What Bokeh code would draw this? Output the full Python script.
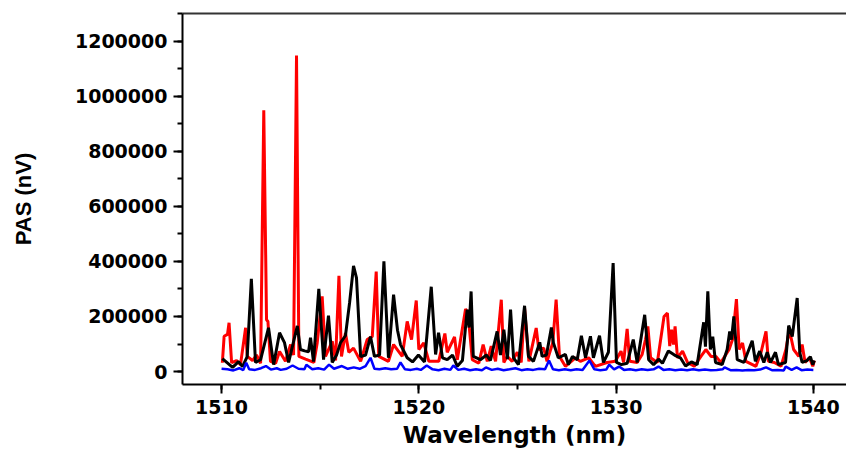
from bokeh.plotting import figure
from bokeh.models import Range1d, SingleIntervalTicker, BasicTickFormatter, LinearAxis, FixedTicker
from bokeh.embed import file_html
from bokeh.resources import INLINE

# ---- data ----
black_wl = [1510.04, 1510.56, 1510.86, 1511.06, 1511.30, 1511.51, 1511.72, 1511.98, 1512.38, 1512.64,
            1512.94, 1513.19, 1513.40, 1513.84, 1514.00, 1514.21, 1514.41, 1514.51, 1514.66, 1514.93,
            1515.17, 1515.42, 1515.61, 1515.83, 1516.03, 1516.28, 1516.49, 1516.69, 1516.84, 1517.05,
            1517.30, 1517.55, 1517.75, 1518.01, 1518.23, 1518.46, 1518.72, 1518.92, 1519.07, 1519.41,
            1519.68, 1519.98, 1520.29, 1520.63, 1520.85, 1521.00, 1521.20, 1521.44, 1521.71, 1521.95,
            1522.21, 1522.45, 1522.55, 1522.65, 1522.76, 1523.12, 1523.43, 1523.63, 1523.97, 1524.14,
            1524.31, 1524.49, 1524.65, 1524.80, 1525.05, 1525.36, 1525.56, 1525.81, 1526.13, 1526.25,
            1526.47, 1526.72, 1526.82, 1527.07, 1527.43, 1527.58, 1527.79, 1528.03, 1528.24, 1528.45,
            1528.70, 1528.85, 1529.16, 1529.36, 1529.61, 1529.85, 1530.02, 1530.27, 1530.56, 1530.87,
            1531.07, 1531.45, 1531.65, 1531.90, 1532.15, 1532.35, 1532.65, 1532.96, 1533.26, 1533.52,
            1533.82, 1534.11, 1534.44, 1534.53, 1534.65, 1534.78, 1534.90, 1535.04, 1535.38, 1535.63,
            1535.76, 1535.85, 1535.97, 1536.14, 1536.48, 1536.90, 1537.06, 1537.28, 1537.49, 1537.66,
            1537.83, 1538.08, 1538.23, 1538.59, 1538.75, 1538.93, 1539.18, 1539.31, 1539.43, 1539.68,
            1539.85, 1539.97, 1540.05]
black_pas = [47000, 15000, 36000, 18000, 54000, 337000, 33000, 43000, 159000, 25000,
             141000, 105000, 33000, 166000, 80000, 75000, 72000, 123000, 36000, 300000,
             43000, 203000, 33000, 60000, 105000, 130000, 250000, 384000, 340000, 54000,
             60000, 127000, 55000, 60000, 400000, 50000, 279000, 150000, 98000, 50000,
             35000, 60000, 35000, 308000, 62000, 141000, 50000, 43000, 60000, 19000,
             40000, 225000, 160000, 291000, 55000, 43000, 60000, 40000, 146000, 60000,
             152000, 45000, 225000, 50000, 25000, 239000, 55000, 37000, 106000, 55000,
             60000, 160000, 105000, 50000, 62000, 25000, 55000, 43000, 130000, 50000,
             128000, 50000, 130000, 33000, 70000, 394000, 33000, 25000, 30000, 116000,
             33000, 206000, 43000, 25000, 45000, 30000, 75000, 60000, 50000, 20000,
             35000, 25000, 179000, 90000, 291000, 80000, 127000, 33000, 25000, 80000,
             146000, 116000, 200000, 43000, 33000, 112000, 37000, 74000, 33000, 70000,
             33000, 70000, 25000, 33000, 167000, 127000, 267000, 70000, 33000, 40000,
             54000, 25000, 40000]

red_wl = [1510.04, 1510.13, 1510.30, 1510.38, 1510.51, 1510.76, 1510.96, 1511.22, 1511.30, 1511.57,
          1511.77, 1511.98, 1512.14, 1512.28, 1512.35, 1512.48, 1512.74, 1512.94, 1513.24, 1513.50,
          1513.65, 1513.80, 1513.92, 1514.26, 1514.68, 1514.85, 1515.10, 1515.27, 1515.61, 1515.78,
          1515.95, 1516.08, 1516.28, 1516.45, 1516.69, 1517.05, 1517.38, 1517.64, 1517.84, 1517.97,
          1518.46, 1518.72, 1519.16, 1519.41, 1519.63, 1519.87, 1520.00, 1520.25, 1520.51, 1521.01,
          1521.32, 1521.44, 1521.81, 1521.95, 1522.37, 1522.49, 1522.71, 1523.04, 1523.26, 1523.47,
          1523.67, 1523.89, 1524.18, 1524.31, 1524.48, 1524.73, 1524.99, 1525.19, 1525.36, 1525.58,
          1525.95, 1526.08, 1526.33, 1526.50, 1526.79, 1526.96, 1527.13, 1527.43, 1527.94, 1528.19,
          1528.61, 1528.95, 1529.54, 1529.96, 1530.25, 1530.38, 1530.56, 1530.69, 1531.07, 1531.32,
          1531.49, 1531.61, 1531.75, 1532.09, 1532.43, 1532.60, 1532.72, 1532.81, 1532.91, 1532.99,
          1533.11, 1533.37, 1533.62, 1533.96, 1534.30, 1534.55, 1534.81, 1535.06, 1535.31, 1535.73,
          1535.90, 1536.10, 1536.24, 1536.41, 1536.58, 1537.09, 1537.35, 1537.60, 1537.72, 1538.02,
          1538.36, 1538.61, 1538.78, 1539.00, 1539.26, 1539.43, 1539.58, 1539.80, 1539.97, 1540.05]
red_pas = [32000, 128000, 135000, 177000, 32000, 40000, 25000, 159000, 55000, 40000,
           60000, 30000, 949000, 188000, 182000, 37000, 30000, 73000, 37000, 98000,
           60000, 1148000, 55000, 45000, 33000, 105000, 273000, 55000, 110000, 40000,
           348000, 55000, 140000, 70000, 85000, 37000, 116000, 127000, 363000, 55000,
           37000, 98000, 55000, 182000, 116000, 258000, 80000, 104000, 37000, 37000,
           138000, 70000, 126000, 43000, 227000, 213000, 43000, 30000, 98000, 37000,
           92000, 37000, 261000, 33000, 55000, 37000, 70000, 33000, 230000, 37000,
           158000, 80000, 85000, 37000, 105000, 261000, 55000, 19000, 50000, 37000,
           50000, 19000, 33000, 37000, 74000, 33000, 155000, 37000, 33000, 62000,
           116000, 164000, 50000, 33000, 200000, 212000, 92000, 152000, 98000, 164000,
           50000, 74000, 33000, 19000, 55000, 80000, 55000, 55000, 33000, 80000,
           116000, 263000, 80000, 104000, 37000, 19000, 70000, 146000, 37000, 33000,
           19000, 80000, 152000, 80000, 55000, 98000, 33000, 50000, 19000, 40000]

blue_wl = [1510.0, 1510.3, 1510.6, 1510.9, 1511.1, 1511.25, 1511.4, 1511.7, 1512.0, 1512.25,
           1512.5, 1512.8, 1513.0, 1513.3, 1513.6, 1513.9, 1514.2, 1514.3, 1514.6, 1514.9,
           1515.2, 1515.45, 1515.7, 1516.1, 1516.4, 1516.7, 1517.0, 1517.3, 1517.55, 1517.75,
           1518.0, 1518.3, 1518.6, 1518.9, 1519.07, 1519.3, 1519.6, 1519.9, 1520.1, 1520.4,
           1520.7, 1521.0, 1521.3, 1521.6, 1521.75, 1522.0, 1522.3, 1522.6, 1522.9, 1523.2,
           1523.4, 1523.7, 1524.0, 1524.3, 1524.6, 1524.9, 1525.2, 1525.5, 1525.8, 1526.1,
           1526.4, 1526.6, 1526.8, 1527.1, 1527.4, 1527.7, 1528.0, 1528.3, 1528.65, 1528.9,
           1529.2, 1529.5, 1529.65, 1529.9, 1530.15, 1530.4, 1530.7, 1531.0, 1531.3, 1531.6,
           1531.9, 1532.15, 1532.4, 1532.7, 1533.0, 1533.3, 1533.6, 1533.9, 1534.2, 1534.5,
           1534.8, 1535.1, 1535.4, 1535.5, 1535.8, 1536.1, 1536.4, 1536.7, 1537.0, 1537.3,
           1537.6, 1537.9, 1538.2, 1538.5, 1538.6, 1538.9, 1539.15, 1539.4, 1539.7, 1540.0]
blue_pas = [10000, 8000, 4000, 12000, 5000, 32000, 8000, 6000, 12000, 20000,
            7000, 12000, 6000, 10000, 22000, 10000, 8000, 25000, 8000, 12000,
            7000, 25000, 10000, 20000, 10000, 15000, 10000, 20000, 50000, 10000,
            8000, 12000, 8000, 10000, 33000, 8000, 6000, 10000, 6000, 22000,
            8000, 5000, 10000, 6000, 22000, 6000, 10000, 5000, 8000, 5000,
            15000, 6000, 10000, 5000, 8000, 12000, 5000, 8000, 6000, 10000,
            8000, 40000, 8000, 5000, 8000, 5000, 8000, 6000, 40000, 8000,
            5000, 7000, 25000, 8000, 18000, 6000, 8000, 5000, 8000, 6000,
            8000, 18000, 6000, 8000, 5000, 7000, 5000, 8000, 5000, 7000,
            5000, 6000, 8000, 15000, 5000, 6000, 4000, 6000, 5000, 7000,
            15000, 5000, 6000, 4000, 18000, 6000, 15000, 5000, 7000, 6000]

x_label = "Wavelength (nm)"
y_label = "PAS (nV)"

TICK_FONT = "DejaVu Sans"

p = figure(width=846, height=450, output_backend="svg", toolbar_location=None,
           x_range=Range1d(1508.02, 1541.68), y_range=Range1d(-47100, 1300700),
           min_border_left=182, min_border_right=0, min_border_top=13, min_border_bottom=65)
p.outline_line_color = None
p.xgrid.visible = False
p.ygrid.visible = False
p.background_fill_color = "white"

p.line(red_wl, red_pas, line_color="#ff0000", line_width=3)
p.line(black_wl, black_pas, line_color="#000000", line_width=3)
p.line(blue_wl, blue_pas, line_color="#0000ff", line_width=2.5)

p.xaxis.ticker = SingleIntervalTicker(interval=10, num_minor_ticks=2)
p.yaxis.ticker = SingleIntervalTicker(interval=200000, num_minor_ticks=2)
p.yaxis.formatter = BasicTickFormatter(use_scientific=False)

for ax in (p.xaxis[0], p.yaxis[0]):
    ax.axis_line_width = 2
    ax.axis_line_color = "black"
    ax.major_tick_line_width = 2
    ax.minor_tick_line_width = 2
    ax.major_tick_in = 0
    ax.major_tick_out = 9
    ax.minor_tick_in = 0
    ax.minor_tick_out = 5
    ax.major_label_text_font = TICK_FONT
    ax.major_label_text_font_style = "bold"
    ax.major_label_text_font_size = "19px"
    ax.major_label_text_color = "black"
    ax.axis_label_text_color = "black"

p.xaxis.axis_label = x_label
p.xaxis.axis_label_text_font = "DejaVu Sans"
p.xaxis.axis_label_text_font_style = "bold"
p.xaxis.axis_label_text_font_size = "23px"
p.xaxis.axis_label_standoff = 5
p.xaxis.major_label_standoff = 6

p.yaxis.axis_label = y_label
p.yaxis.axis_label_text_font = "Liberation Sans"
p.yaxis.axis_label_text_font_style = "bold"
p.yaxis.axis_label_text_font_size = "22px"
p.yaxis.axis_label_standoff = 36
p.yaxis.major_label_standoff = 6

top = LinearAxis(ticker=FixedTicker(ticks=[]), major_tick_line_color=None,
                 minor_tick_line_color=None, axis_line_width=2,
                 axis_line_color="#333333")
p.add_layout(top, "above")

open("out.html", "w").write(file_html(p, INLINE))
